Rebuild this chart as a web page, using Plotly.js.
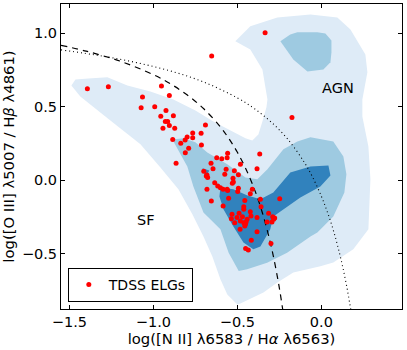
<!DOCTYPE html>
<html>
<head>
<meta charset="utf-8">
<script src="https://cdn.plot.ly/plotly-3.0.1.min.js"></script>
<style>
  html, body { margin: 0; padding: 0; background: #fff; }
  #bpt { width: 407px; height: 350px; }
</style>
</head>
<body>
<div id="bpt"></div>
<script>
/***************************************************
 * Data: TDSS ELGs on the BPT diagram
 ***************************************************/
// log([N II]/Ha) and log([O III]/Hb) of the TDSS emission-line galaxies
const elgX = [-1.393, -1.268, -0.335, -0.653, -0.952, -1.065, -1.073, -0.992, -0.905, -0.925,
  -0.881, -0.956, -0.929, -0.915, -0.905, -0.943, -0.873, -0.690, -0.837, -0.885,
  -0.811, -0.799, -0.766, -0.766, -0.716, -0.714, -0.810, -0.790, -0.623, -0.593,
  -0.558, -0.561, -0.865, -0.700, -0.685, -0.681, -0.655, -0.645, -0.657, -0.575,
  -0.567, -0.635, -0.617, -0.601, -0.585, -0.585, -0.677, -0.681, -0.482, -0.367,
  -0.383, -0.518, -0.494, -0.526, -0.524, -0.530, -0.558, -0.494, -0.498, -0.411,
  -0.552, -0.456, -0.363, -0.359, -0.462, -0.423, -0.248, -0.462, -0.423, -0.490,
  -0.532, -0.536, -0.502, -0.470, -0.442, -0.419, -0.482, -0.462, -0.452, -0.516,
  -0.448, -0.383, -0.314, -0.290, -0.284, -0.278, -0.323, -0.294, -0.456, -0.484,
  -0.383, -0.417, -0.451, -0.435, -0.300, -0.175, -0.561];
const elgY = [0.624, 0.637, 1.005, 0.846, 0.642, 0.567, 0.494, 0.501, 0.578, 0.476,
  0.440, 0.437, 0.401, 0.401, 0.374, 0.354, 0.354, 0.376, 0.252, 0.279,
  0.274, 0.295, 0.322, 0.290, 0.320, 0.240, 0.188, 0.218, 0.154, 0.147,
  0.184, 0.154, 0.116, 0.063, 0.029, -0.061, -0.141, 0.080, 0.116, 0.041,
  0.075, -0.016, -0.039, -0.050, -0.061, -0.175, 0.020, 0.036, 0.109, 0.179,
  0.080, 0.066, 0.039, 0.014, -0.011, -0.020, -0.068, -0.054, -0.075, -0.061,
  -0.122, -0.136, -0.129, -0.179, -0.179, -0.091, -0.125, -0.197, -0.213, -0.224,
  -0.231, -0.261, -0.252, -0.247, -0.265, -0.243, -0.277, -0.288, -0.299, -0.288,
  -0.283, -0.252, -0.224, -0.247, -0.265, -0.256, -0.283, -0.283, -0.311, -0.333,
  -0.349, -0.408, -0.463, -0.474, -0.429, 0.428, -0.061];

// demarcation lines (Kauffmann 2003 dashed, Kewley 2001 dotted), sampled off the figure
const kauffX = [-1.55, -1.4, -1.2, -1.0, -0.9, -0.8, -0.7, -0.6, -0.55, -0.5, -0.45, -0.4, -0.375, -0.35, -0.325, -0.3, -0.275, -0.25, -0.23];
const kauffY = [0.919, 0.879, 0.812, 0.719, 0.658, 0.582, 0.487, 0.362, 0.283, 0.191, 0.080, -0.056, -0.135, -0.225, -0.327, -0.443, -0.577, -0.733, -0.879];
const kewleyX = [-1.55, -1.3, -1.1, -0.9, -0.7, -0.5, -0.4, -0.3, -0.2, -0.1, -0.05, 0.0, 0.025, 0.05, 0.075, 0.1, 0.125, 0.15, 0.175];
const kewleyY = [0.888, 0.845, 0.801, 0.745, 0.669, 0.561, 0.489, 0.398, 0.280, 0.120, 0.017, -0.108, -0.181, -0.262, -0.354, -0.459, -0.578, -0.716, -0.878];

// SDSS density contours (outer / middle / inner), outlines
const outerX = [-1.488, -1.464, -1.387, -1.274, -1.155, -1.018, -0.881, -0.750, -0.643, -0.530,
  -0.452, -0.411, -0.375, -0.351, -0.327, -0.321, -0.351, -0.423, -0.512, -0.423,
  -0.262, -0.065, 0.095, 0.173, 0.262, 0.274, 0.244, 0.244, 0.280, 0.292,
  0.286, 0.280, 0.190, 0.071, -0.006, -0.167, -0.262, -0.345, -0.482, -0.500,
  -0.560, -0.601, -0.649, -0.702, -0.768, -0.851, -0.958, -1.077, -1.256, -1.357, -1.435];
const outerY = [0.646, 0.687, 0.694, 0.701, 0.646, 0.605, 0.551, 0.476, 0.401, 0.333,
  0.286, 0.272, 0.313, 0.401, 0.497, 0.551, 0.755, 0.891, 0.946, 1.048,
  1.109, 1.129, 1.109, 1.027, 0.857, 0.735, 0.551, 0.435, 0.231, 0.007,
  -0.177, -0.333, -0.469, -0.558, -0.585, -0.626, -0.694, -0.762, -0.837, -0.844,
  -0.776, -0.673, -0.517, -0.381, -0.231, -0.061, 0.088, 0.245, 0.408, 0.497, 0.571];

const midX = [-0.887, -0.821, -0.750, -0.679, -0.560, -0.452, -0.381, -0.321, -0.226, -0.143,
  -0.065, 0.071, 0.131, 0.149, 0.137, 0.071, -0.024, -0.065, -0.204, -0.323,
  -0.442, -0.492, -0.552, -0.601, -0.702, -0.762, -0.798];
const midY = [0.279, 0.286, 0.259, 0.190, 0.109, 0.020, 0.007, 0.075, 0.211, 0.265,
  0.293, 0.265, 0.163, 0.041, -0.082, -0.245, -0.354, -0.381, -0.492, -0.560,
  -0.605, -0.617, -0.492, -0.333, -0.218, -0.041, 0.095];
const midAgnX = [-0.244, -0.185, -0.143, -0.024, 0.024, 0.060, 0.060, 0.054, 0.012, -0.083, -0.167];
const midAgnY = [0.946, 0.993, 1.007, 1.007, 1.000, 0.952, 0.871, 0.803, 0.755, 0.741, 0.823];

const innerX = [-0.601, -0.524, -0.440, -0.363, -0.286, -0.185, -0.065, 0.042, 0.054, -0.006,
  -0.125, -0.226, -0.286, -0.304, -0.363, -0.405, -0.464, -0.524, -0.583, -0.607];
const innerY = [-0.048, -0.061, -0.102, -0.129, -0.082, 0.054, 0.095, 0.102, 0.034, -0.041,
  -0.116, -0.197, -0.245, -0.333, -0.449, -0.469, -0.422, -0.313, -0.197, -0.109];
const innerSmallX = [-0.708, -0.667, -0.690];
const innerSmallY = [0.082, 0.068, 0.020];

/***************************************************
 * 配色
 ***************************************************/
const lightBlue = '#deebf7';
const midBlue   = '#9ecae1';
const darkBlue  = '#3182bd';
const fontFam   = 'DejaVu Sans, sans-serif';

function area(x, y, color) {
  return {
    x: x, y: y, mode: 'lines', fill: 'toself', fillcolor: color,
    line: { width: 0, color: color }, showlegend: false, hoverinfo: 'skip'
  };
}

const traces = [
  area(outerX, outerY, lightBlue),
  area(midX, midY, midBlue),
  area(midAgnX, midAgnY, midBlue),
  area(innerX, innerY, darkBlue),
  area(innerSmallX, innerSmallY, darkBlue),
  {
    x: kauffX, y: kauffY, mode: 'lines', line: { color: '#000', width: 1.2, dash: '6px,5px', shape: 'spline' },
    showlegend: false, hoverinfo: 'skip'
  },
  {
    x: kewleyX, y: kewleyY, mode: 'lines', line: { color: '#000', width: 1.1, dash: '1px,3px', shape: 'spline' },
    showlegend: false, hoverinfo: 'skip'
  },
  {
    x: elgX, y: elgY, mode: 'markers', name: 'TDSS ELGs',
    marker: { color: '#ff0000', size: 5, line: { width: 0 } }
  }
];

const axisCommon = {
  showgrid: false, zeroline: false, showline: true, linecolor: '#000', linewidth: 1,
  mirror: 'ticks', ticks: 'inside', ticklen: 4, tickcolor: '#000',
  tickformat: '.1f', tickfont: { family: fontFam, size: 14.5, color: '#000' }
};

const layout = {
  width: 407, height: 350,
  margin: { l: 61, r: 5, t: 4, b: 41 },
  paper_bgcolor: '#fff', plot_bgcolor: '#fff',
  font: { family: fontFam, color: '#000' },
  xaxis: Object.assign({}, axisCommon, {
    range: [-1.55, 0.48], tickvals: [-1.5, -1.0, -0.5, 0.0],
    title: { text: 'log([N II] λ6583 / H<i>α</i> λ6563)', font: { family: fontFam, size: 14.8 }, standoff: 2 }
  }),
  yaxis: Object.assign({}, axisCommon, {
    range: [-0.875, 1.2], tickvals: [-0.5, 0.0, 0.5, 1.0],
    title: { text: 'log([O III] λ5007 / H<i>β</i> λ4861)', font: { family: fontFam, size: 14.8 }, standoff: 4 }
  }),
  legend: {
    x: 0.02, y: 0.023, xanchor: 'left', yanchor: 'bottom',
    bordercolor: '#000', borderwidth: 1, bgcolor: '#fff',
    font: { family: fontFam, size: 14 }
  },
  annotations: [
    { x: 0.099, y: 0.628, text: 'AGN', showarrow: false, font: { family: fontFam, size: 14.5 } },
    { x: -1.046, y: -0.267, text: 'SF', showarrow: false, font: { family: fontFam, size: 14.5 } }
  ]
};

Plotly.newPlot('bpt', traces, layout, { staticPlot: true, displayModeBar: false });
</script>
</body>
</html>
